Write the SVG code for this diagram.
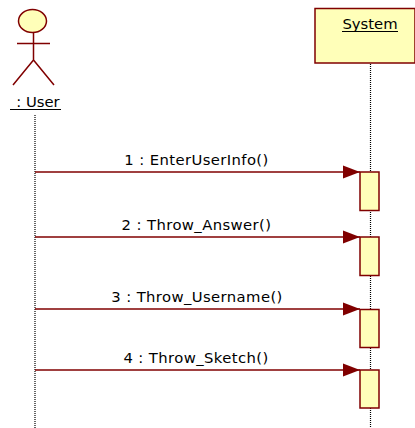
<svg xmlns="http://www.w3.org/2000/svg" width="415" height="428" viewBox="0 0 415 428">
<style>
.s{stroke:#800000;stroke-width:1.5;fill:#ffffb9}
.l{stroke:#800000;stroke-width:1.5;fill:none}
.m{stroke:#800000;stroke-width:1.5;fill:none;marker-end:url(#a)}
.d{stroke:#000;stroke-width:1.2;stroke-dasharray:1 1;fill:none}
.t{font-family:"DejaVu Sans",Verdana,sans-serif;font-size:14.8px;fill:#000;text-anchor:middle}
.w{letter-spacing:.4px}
.u{stroke:#000;stroke-width:1;fill:none}
</style>
<defs><marker id="a" markerUnits="userSpaceOnUse" markerWidth="18" markerHeight="14" refX="17" refY="7" orient="auto"><path d="M0 .5L17 7L0 13.5Z" fill="#800000"/></marker></defs>
<g id="connectors">
<path class="d" d="M35 115V428"/>
<path class="d" d="M370.500 64V428"/>
<path class="m" d="M35 172H360"/>
<path class="m" d="M35 237H360"/>
<path class="m" d="M35 309H360"/>
<path class="m" d="M35 370H360"/>
</g>
<g id="user">
<ellipse class="s" cx="32.5" cy="21" rx="14" ry="11.5"/>
<path class="l" d="M33.500 32.500V60M17 43.500H50M33.500 60L13 85M33.500 60L54 85"/>
<text class="t" x="38" y="107">: User</text>
<path class="u" d="M10 109.500H61"/>
</g>
<g id="system">
<rect class="s" x="315" y="8.500" width="100" height="54.500"/>
<text class="t" x="370" y="29">System</text>
<path class="u" d="M342 31.500H398"/>
</g>
<g id="activations">
<rect class="s" x="360" y="172" width="19" height="38.500"/>
<rect class="s" x="360" y="237" width="19" height="38.500"/>
<rect class="s" x="360" y="309.500" width="19" height="38"/>
<rect class="s" x="360" y="370" width="19" height="38"/>
</g>
<g id="labels">
<text class="t w" x="196.500" y="165">1 : EnterUserInfo()</text>
<text class="t w" x="196.500" y="230">2 : Throw_Answer()</text>
<text class="t w" x="197" y="302">3 : Throw_Username()</text>
<text class="t w" x="196" y="363">4 : Throw_Sketch()</text>
</g>
</svg>
